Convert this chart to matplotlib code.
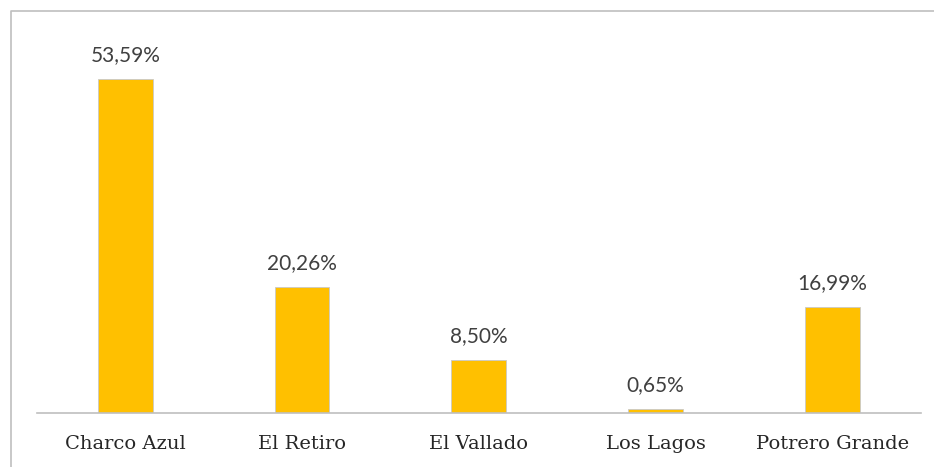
import matplotlib.pyplot as plt
from matplotlib.lines import Line2D

# Data
categories = ['Charco Azul', 'El Retiro', 'El Vallado', 'Los Lagos', 'Potrero Grande']
values = [53.59, 20.26, 8.50, 0.65, 16.99]
labels = ['53,59%', '20,26%', '8,50%', '0,65%', '16,99%']

W, H = 934, 467
fig = plt.figure(figsize=(W / 100, H / 100), dpi=100)

# outer chart frame: only left and top edges visible in the picture
fx, fy = 10.5 / W, 1 - 10.5 / H
fig.add_artist(Line2D([fx, fx, 1.1], [-0.1, fy, fy], transform=fig.transFigure,
                      color='#BFBFBF', linewidth=1.2, clip_on=False))

ax = fig.add_axes([37 / W, 1 - 413 / H, (920.5 - 37) / W, (413 - 39) / H])
x = range(len(categories))
bars = ax.bar(x, values, width=0.31, color='#FFC000', edgecolor='#C9C9C9', linewidth=0.6)

ax.set_xlim(-0.5, len(categories) - 0.5)
ax.set_ylim(0, 60)

for b, lab in zip(bars, labels):
    ax.annotate(lab, (b.get_x() + b.get_width() / 2, b.get_height()),
                xytext=(0, 24), textcoords='offset pixels',
                ha='center', va='center', fontsize=15, color='#404040',
                family='Lato')

for sp in ['top', 'right', 'left']:
    ax.spines[sp].set_visible(False)
ax.spines['bottom'].set_color('#BFBFBF')
ax.spines['bottom'].set_linewidth(1.2)
ax.set_yticks([])
ax.set_xticks(list(x))
ax.set_xticklabels(categories, fontsize=14, color='#262626', family='DejaVu Serif')
ax.tick_params(axis='x', length=0, pad=22)
for t in ax.get_xticklabels():
    t.set_va('center')

fig.savefig('out.png', dpi=100)
